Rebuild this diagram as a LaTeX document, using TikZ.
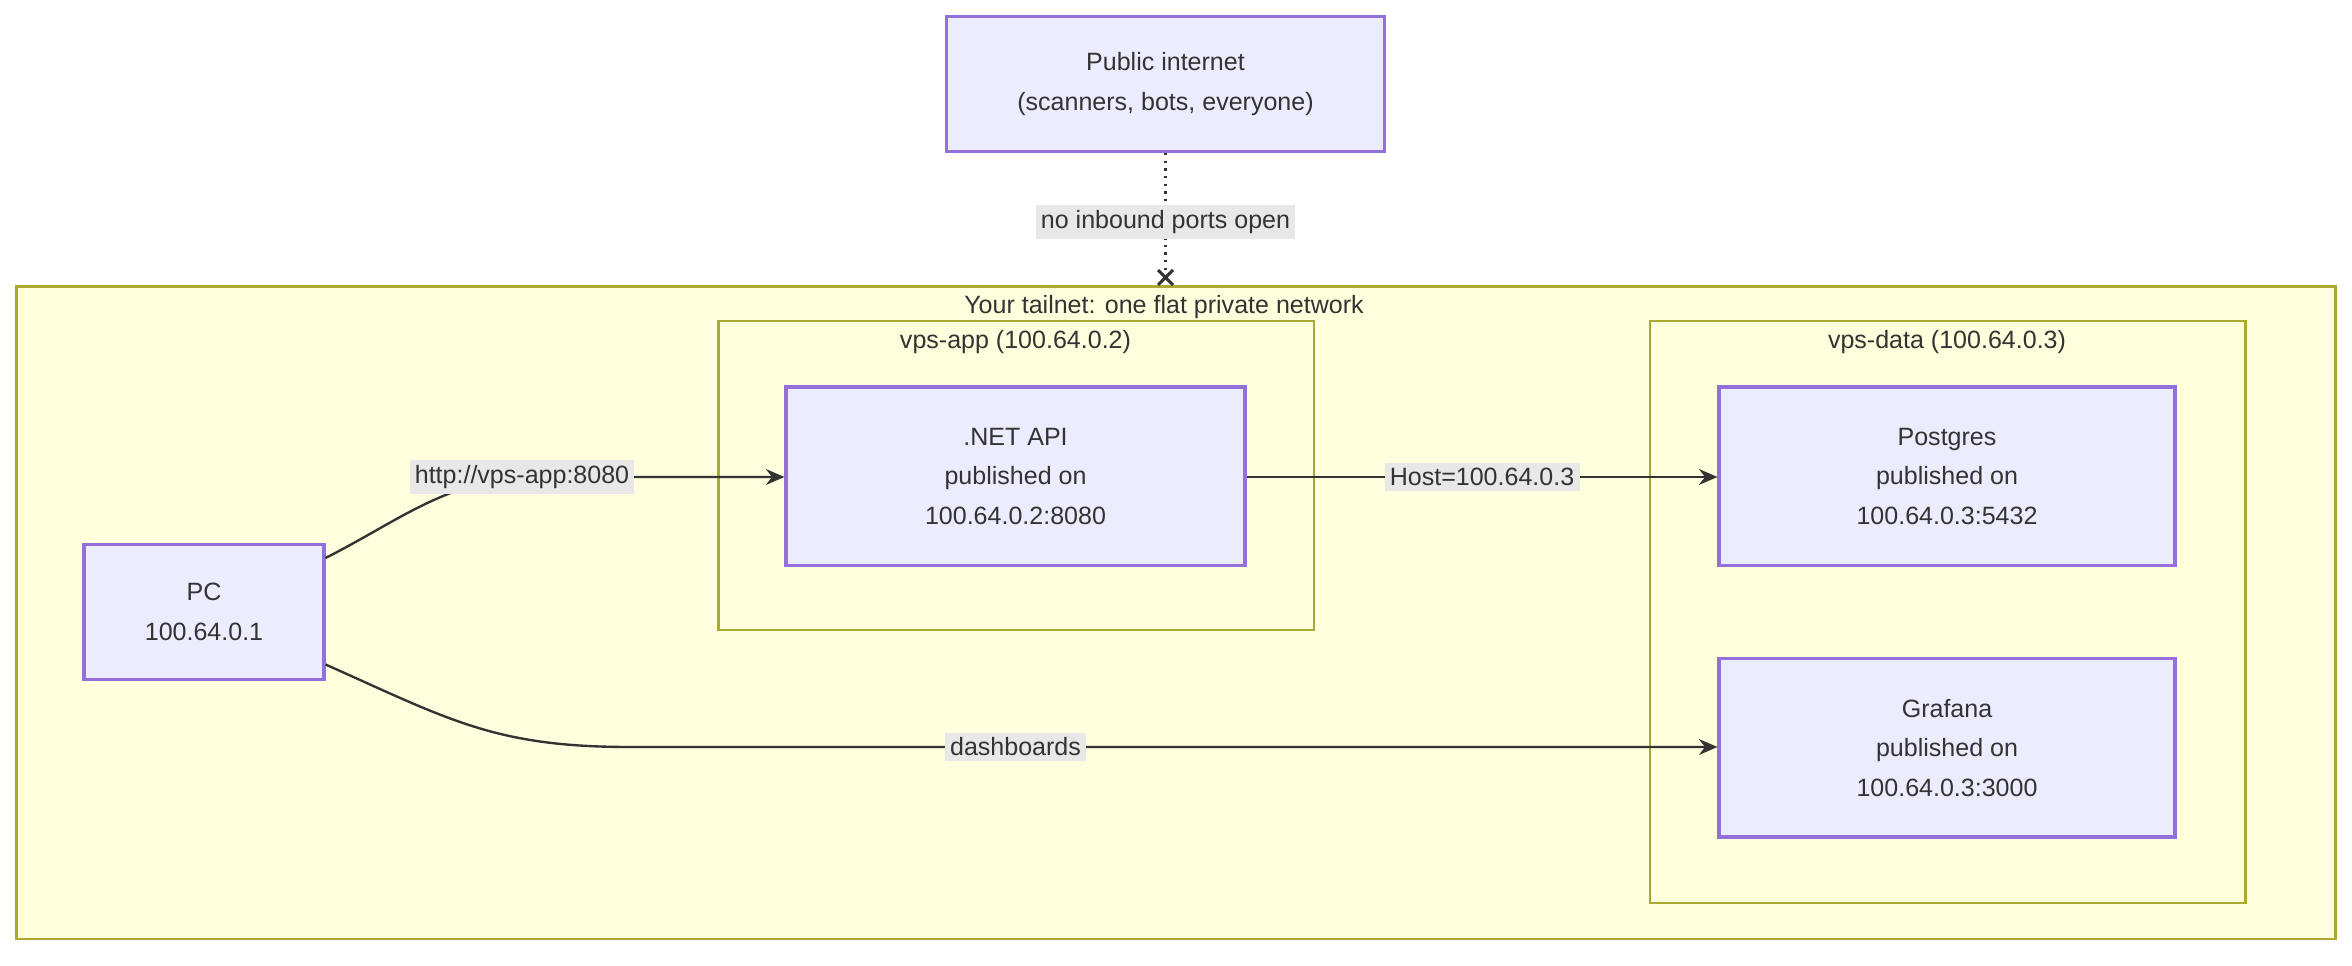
\documentclass[tikz,border=0pt]{standalone}
\usepackage{fontspec}
\setmainfont{Liberation Sans}
\usetikzlibrary{arrows.meta,calc}
\definecolor{nfill}{HTML}{ECECFF}
\definecolor{nline}{HTML}{9370DB}
\definecolor{cfill}{HTML}{FFFFDE}
\definecolor{cline}{HTML}{AAAA33}
\definecolor{lbl}{HTML}{E8E8E8}
\definecolor{ink}{HTML}{333333}
\begin{document}
\begin{tikzpicture}[x=0.02cm,y=-0.02cm,
  every node/.style={font=\fontsize{9.5}{15}\selectfont, text=ink},
  box/.style={draw=nline, fill=nfill, line width=1.2pt, align=center, inner sep=0pt},
  cluster/.style={draw=cline, fill=cfill, line width=1pt},
  title/.style={inner sep=1pt},
  elabel/.style={fill=lbl, inner sep=2pt},
  edge/.style={draw=ink, line width=0.9pt, -{Stealth[length=7pt,width=6pt]}}]
\useasboundingbox (0,0) rectangle (1568,644);
% clusters
\draw[cluster] (11,191) rectangle (1557,626);
\node[title] (tailt) at (776,205) {Your tailnet: one flat private network};
\draw[cluster] (479,214) rectangle (876,420);
\node[title] (appt) at (677,228) {vps-app (100.64.0.2)};
\draw[cluster] (1100,214) rectangle (1497,602);
\node[title] (datat) at (1298,228) {vps-data (100.64.0.3)};
% nodes
\node[box, minimum width=292*0.02cm, minimum height=90*0.02cm] (pub) at (777,56) {Public internet\\(scanners, bots, everyone)};
\node[box, minimum width=306*0.02cm, minimum height=119*0.02cm] (api) at (677,317.5) {.NET API\\published on\\100.64.0.2:8080};
\node[box, minimum width=304*0.02cm, minimum height=119*0.02cm] (pg) at (1298,317.5) {Postgres\\published on\\100.64.0.3:5432};
\node[box, minimum width=304*0.02cm, minimum height=119*0.02cm] (gf) at (1298,498.5) {Grafana\\published on\\100.64.0.3:3000};
\node[box, minimum width=160*0.02cm, minimum height=90*0.02cm] (pc) at (136,408) {PC\\100.64.0.1};
% edges
\coordinate (x) at (777,185);
\draw[draw=ink, line width=0.9pt, dotted] (pub.south) -- (x);
\draw[ink, line width=1.1pt] ($(x)+(-5,-5)$) -- ($(x)+(5,5)$) ($(x)+(-5,5)$) -- ($(x)+(5,-5)$);
\node[elabel] (l0) at (777,148) {no inbound ports open};
\draw[edge] (pc.east |- 0,372) .. controls (270,345) and (300,318) .. (360,318) -- (api.west |- 0,318);
\node[elabel] (l1) at (348,318) {http://vps-app:8080};
\draw[edge] (api.east |- 0,318) -- (pg.west |- 0,318);
\node[elabel] (l2) at (988,318) {Host=100.64.0.3};
\draw[edge] (pc.east |- 0,443) .. controls (300,480) and (330,498) .. (420,498) -- (gf.west |- 0,498);
\node[elabel] (l3) at (677,498) {dashboards};
\end{tikzpicture}
\end{document}
